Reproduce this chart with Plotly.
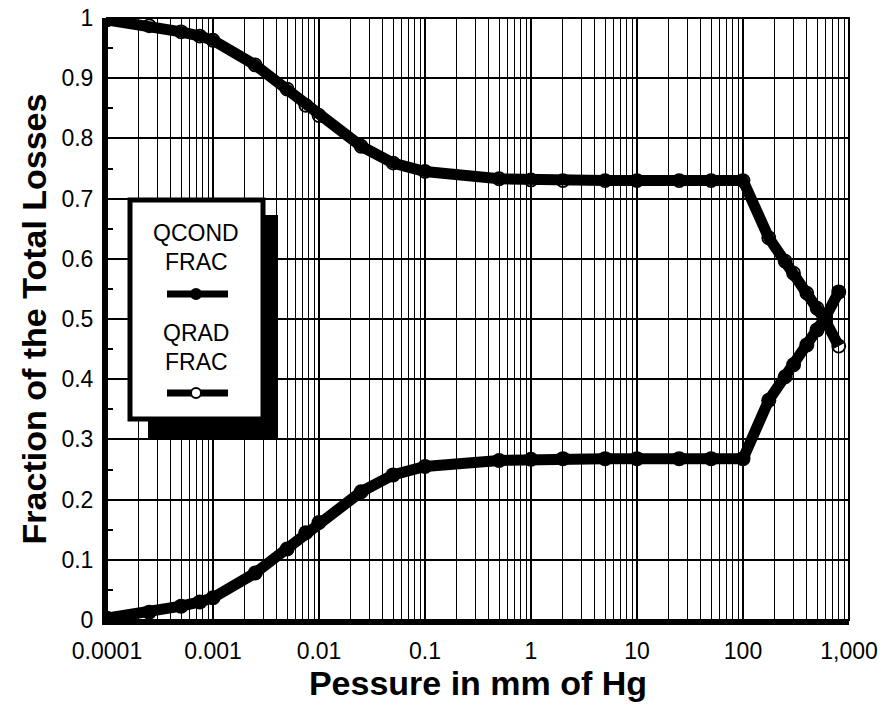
import plotly.graph_objects as go

pressure = [1e-4, 2.5e-4, 5e-4, 7.5e-4, 1e-3, 2.5e-3, 5e-3, 7.5e-3, 0.01, 0.025, 0.05, 0.1,
            0.5, 1, 2, 5, 10, 25, 50, 100, 175, 250, 300, 400, 500, 600, 800]
qrad_frac = [0.997, 0.987, 0.977, 0.970, 0.963, 0.922, 0.882, 0.855, 0.838, 0.787, 0.759, 0.745,
             0.733, 0.731, 0.730, 0.730, 0.730, 0.730, 0.730, 0.730, 0.635, 0.596, 0.576, 0.543,
             0.518, 0.497, 0.455]
qcond_frac = [0.003, 0.013, 0.023, 0.030, 0.037, 0.078, 0.118, 0.145, 0.162, 0.213, 0.241, 0.255,
              0.265, 0.267, 0.268, 0.268, 0.268, 0.268, 0.268, 0.268, 0.365, 0.404, 0.424, 0.457,
              0.482, 0.503, 0.545]

x_tickvals = [1e-4, 1e-3, 1e-2, 1e-1, 1, 10, 100, 1000]
x_ticktext = ["0.0001", "0.001", "0.01", "0.1", "1", "10", "100", "1,000"]
y_tickvals = [0, 0.1, 0.2, 0.3, 0.4, 0.5, 0.6, 0.7, 0.8, 0.9, 1.0]
y_ticktext = ["0", "0.1", "0.2", "0.3", "0.4", "0.5", "0.6", "0.7", "0.8", "0.9", "1"]

FONT = "Liberation Sans, Arial, Helvetica, sans-serif"

fig = go.Figure()
fig.add_trace(go.Scatter(
    x=pressure, y=qrad_frac, name="QRAD FRAC", mode="lines+markers",
    line=dict(color="black", width=11),
    marker=dict(symbol="circle-open", size=13, color="black", line=dict(width=1.8, color="black")),
))
fig.add_trace(go.Scatter(
    x=pressure, y=qcond_frac, name="QCOND FRAC", mode="lines+markers",
    line=dict(color="black", width=11),
    marker=dict(symbol="circle", size=15, color="black"),
))

W, H = 888, 711
L, R, T, B = 107, 39, 18, 91
pw, ph = W - L - R, H - T - B

def px(x):
    return (x - L) / pw

def py(y):
    return (H - B - y) / ph

shapes = []
# plot border (top / right thin)
shapes.append(dict(type="rect", xref="paper", yref="paper", x0=0, y0=0, x1=1, y1=1,
                   line=dict(color="black", width=2), layer="above"))
# legend shadow
shapes.append(dict(type="rect", xref="paper", yref="paper", x0=px(148), x1=px(278),
                   y0=py(440), y1=py(215), fillcolor="black", line=dict(width=0), layer="above"))
# legend box
shapes.append(dict(type="rect", xref="paper", yref="paper", x0=px(130), x1=px(263),
                   y0=py(419), y1=py(200), fillcolor="white",
                   line=dict(color="black", width=5), layer="above"))
# legend line samples
for yy, filled in [(294, True), (393, False)]:
    shapes.append(dict(type="line", xref="paper", yref="paper", x0=px(167), x1=px(228),
                       y0=py(yy), y1=py(yy), line=dict(color="black", width=7), layer="above"))
    shapes.append(dict(type="circle", xref="paper", yref="paper",
                       x0=px(191), x1=px(201), y0=py(yy + 5), y1=py(yy - 5),
                       fillcolor="black" if filled else "white",
                       line=dict(color="black", width=2), layer="above"))

annotations = []
for txt, yy in [("QCOND", 233), ("FRAC", 262), ("QRAD", 333), ("FRAC", 362)]:
    annotations.append(dict(text=txt, xref="paper", yref="paper", x=px(196), y=py(yy),
                            showarrow=False, xanchor="center", yanchor="middle",
                            font=dict(family=FONT, size=23, color="black")))

fig.update_layout(
    width=W, height=H,
    margin=dict(l=L, r=R, t=T, b=B, autoexpand=False),
    paper_bgcolor="white", plot_bgcolor="white",
    showlegend=False,
    shapes=shapes,
    annotations=annotations,
    font=dict(family=FONT, color="black"),
)
fig.update_xaxes(
    type="log", range=[-4, 3], automargin=False,
    tickvals=x_tickvals, ticktext=x_ticktext,
    tickfont=dict(family=FONT, size=23, color="black"),
    ticklabelstandoff=6,
    showgrid=True, gridcolor="black", gridwidth=1.5,
    minor=dict(dtick="D1", showgrid=True, gridcolor="black", gridwidth=1.2, ticks=""),
    showline=True, linecolor="black", linewidth=5,
    ticks="", zeroline=False,
    title=dict(text="<b>Pessure in mm of Hg</b>", font=dict(family=FONT, size=34, color="black"),
               standoff=4),
)
fig.update_yaxes(
    range=[0, 1], automargin=False,
    tickvals=y_tickvals, ticktext=y_ticktext,
    tickfont=dict(family=FONT, size=23, color="black"),
    ticklabelstandoff=4,
    showgrid=True, gridcolor="black", gridwidth=1.5,
    minor=dict(dtick=0.05, ticks="inside", ticklen=6, tickwidth=1.5, tickcolor="black", showgrid=False),
    showline=True, linecolor="black", linewidth=5,
    ticks="", zeroline=False,
    title=dict(text="<b>Fraction of the Total Losses</b>", font=dict(family=FONT, size=34, color="black"),
               standoff=6),
)

fig.write_html("out.html")
